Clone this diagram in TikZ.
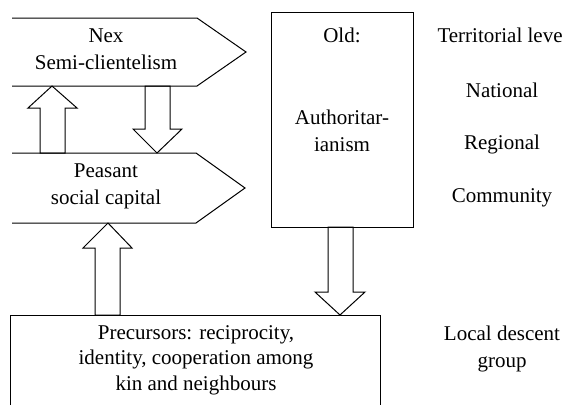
\documentclass[tikz,border=0pt]{standalone}
\usepackage{fontspec}
\setmainfont{Liberation Serif}
\begin{document}
\begin{tikzpicture}[x=1pt,y=-1pt,line width=1pt,
  lbl/.style={inner sep=0pt, align=center, font=\fontsize{21}{27}\selectfont},
  outline/.style={draw=black, line join=miter}]
\useasboundingbox (0,0) rectangle (568,405);
% chevrons (open on the left)
\draw[outline] (12,18) -- (197,18) -- (246,52) -- (197,86) -- (12,86);
\node[lbl] (nex) at (106,49) {Nex\\Semi-clientelism};
\draw[outline] (12,153) -- (196,153) -- (245,188) -- (196,223) -- (12,223);
\node[lbl] (peasant) at (106,186) {Peasant\\social capital};
% old box
\draw[outline] (271,12) rectangle (413,227);
\node[lbl] (old) at (342,35) {Old:};
\node[lbl] (auth) at (342,131) {Authoritar-\\ianism};
% bottom box (cut by the lower edge)
\draw[outline] (10,405) -- (10,315) -- (380,315) -- (380,405);
\node[lbl, font=\fontsize{21}{25.5}\selectfont] (prec) at (196,360) {Precursors: reciprocity,\\identity, cooperation among\\kin and neighbours};
% right column
\node[lbl, anchor=west] (terr) at (437,35) {Territorial leve};
\node[lbl] (nat) at (502,90) {National};
\node[lbl] (reg) at (502,144) {Regional};
\node[lbl] (com) at (502,198) {Community};
\node[lbl] (loc) at (502,349) {Local descent\\group};
% block arrows
\draw[outline] (52,86) -- (77,108) -- (65,108) -- (65,153) -- (40,153) -- (40,108) -- (28,108) -- cycle;
\draw[outline] (145,86) -- (170,86) -- (170,129) -- (182,129) -- (157,153) -- (133,129) -- (145,129) -- cycle;
\draw[outline] (108,223) -- (132,248) -- (120,248) -- (120,315) -- (95,315) -- (95,248) -- (83,248) -- cycle;
\draw[outline] (328,227) -- (353,227) -- (353,292) -- (365,292) -- (340,315) -- (315,292) -- (328,292) -- cycle;
\end{tikzpicture}
\end{document}
